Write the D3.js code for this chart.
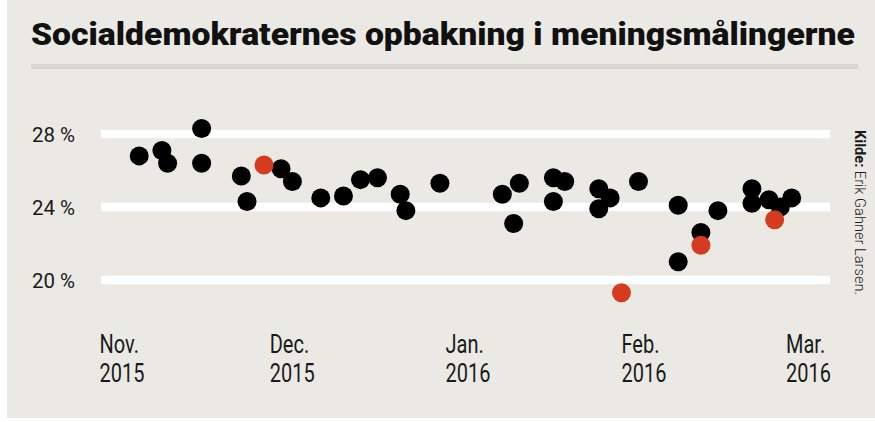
<!DOCTYPE html>
<html>
<head>
<meta charset="utf-8">
<script src="https://cdn.jsdelivr.net/npm/d3@7"></script>
<style>
  html, body { margin: 0; padding: 0; background: #fff; }
  svg { display: block; }
</style>
</head>
<body>
<div id="chart"></div>
<script>
// Målinger (sorte) og fremhævede målinger (røde)
const blackDates = ["2015-11-08","2015-11-12","2015-11-13","2015-11-19","2015-11-19","2015-11-26","2015-11-27",
  "2015-12-03","2015-12-05","2015-12-10","2015-12-14","2015-12-17","2015-12-20","2015-12-24","2015-12-25","2015-12-31",
  "2016-01-11","2016-01-14","2016-01-13","2016-01-20","2016-01-22","2016-01-20","2016-01-28","2016-01-30","2016-01-28",
  "2016-02-04","2016-02-11","2016-02-11","2016-02-15","2016-02-18","2016-02-24","2016-02-24","2016-02-27","2016-02-29","2016-03-02"];
const blackValues = [26.8, 27.1, 26.4, 28.3, 26.4, 25.7, 24.3,
  26.1, 25.4, 24.5, 24.6, 25.5, 25.6, 24.7, 23.8, 25.3,
  24.7, 25.3, 23.1, 25.6, 25.4, 24.3, 25.0, 24.5, 23.9,
  25.4, 24.1, 21.0, 22.6, 23.8, 25.0, 24.2, 24.4, 24.0, 24.5];

const redDates = ["2015-11-30","2016-02-01","2016-02-15","2016-02-28"];
const redValues = [26.3, 19.3, 21.9, 23.3];

const yTicks = [20, 24, 28];
const monthTicks = ["2015-11-01","2015-12-01","2016-01-01","2016-02-01","2016-03-01"];
const monthNames = ["Nov.", "Dec.", "Jan.", "Feb.", "Mar."];
const monthYears = ["2015", "2015", "2016", "2016", "2016"];

const W = 875, H = 422;
const parse = d3.utcParse("%Y-%m-%d");
const font = "Roboto, 'DejaVu Sans Condensed', sans-serif";
const squeeze = 0.8; // smal skrift

const svg = d3.select("#chart")
    .append("svg")
    .attr("width", W)
    .attr("height", H);

// baggrund
svg.append("rect")
    .attr("x", 7).attr("y", 0)
    .attr("width", W - 7).attr("height", 418)
    .attr("fill", "#ebe9e4");

// titel
svg.append("text")
    .attr("x", 31)
    .attr("y", 45)
    .attr("textLength", 824)
    .attr("lengthAdjust", "spacingAndGlyphs")
    .style("font-family", font)
    .style("font-weight", 900)
    .style("font-size", "32px")
    .attr("fill", "#111")
    .text("Socialdemokraternes opbakning i meningsmålingerne");

svg.append("rect")
    .attr("x", 31).attr("y", 64)
    .attr("width", 827).attr("height", 5)
    .attr("fill", "#d9d6d0");

const x = d3.scaleUtc()
    .domain([parse("2015-11-01"), parse("2016-03-01")])
    .range([99.5, 786]);

const y = d3.scaleLinear()
    .domain([20, 28])
    .range([280, 134]);

// hvide gitterlinjer
svg.selectAll(".grid")
    .data(yTicks)
    .enter()
    .append("line")
    .attr("class", "grid")
    .attr("x1", 101).attr("x2", 830)
    .attr("y1", d => y(d)).attr("y2", d => y(d))
    .attr("stroke", "#fff")
    .attr("stroke-width", 8.5);

svg.selectAll(".ylab")
    .data(yTicks)
    .enter()
    .append("text")
    .attr("class", "ylab")
    .attr("x", 32)
    .attr("y", d => y(d) + 8)
    .attr("textLength", 43)
    .attr("lengthAdjust", "spacingAndGlyphs")
    .style("font-family", font)
    .style("font-size", "21px")
    .attr("fill", "#1a1a1a")
    .text(d => d + " %");

// måneder
const xl = svg.selectAll(".xlab")
    .data(monthTicks)
    .enter()
    .append("text")
    .attr("class", "xlab")
    .attr("transform", d => `translate(${x(parse(d))},0) scale(${squeeze},1)`)
    .style("font-family", font)
    .style("font-size", "25px")
    .attr("fill", "#1a1a1a");

xl.append("tspan").attr("x", 0).attr("y", 353).text((d, i) => monthNames[i]);
xl.append("tspan").attr("x", 0).attr("y", 382).text((d, i) => monthYears[i]);

// prikker
svg.selectAll(".dot")
    .data(blackDates.map((d, i) => ({ date: parse(d), value: blackValues[i] })))
    .enter()
    .append("circle")
    .attr("class", "dot")
    .attr("cx", d => x(d.date))
    .attr("cy", d => y(d.value))
    .attr("r", 9.5)
    .attr("fill", "#000");

svg.selectAll(".reddot")
    .data(redDates.map((d, i) => ({ date: parse(d), value: redValues[i] })))
    .enter()
    .append("circle")
    .attr("class", "reddot")
    .attr("cx", d => x(d.date))
    .attr("cy", d => y(d.value))
    .attr("r", 9.5)
    .attr("fill", "#d53b1e");

// kilde
const src = svg.append("text")
    .attr("transform", "translate(855,130) rotate(90)")
    .attr("textLength", 165)
    .attr("lengthAdjust", "spacingAndGlyphs")
    .style("font-family", font)
    .style("font-size", "15px")
    .attr("fill", "#1a1a1a");
src.append("tspan").style("font-weight", "bold").text("Kilde:");
src.append("tspan").style("font-weight", 300).text(" Erik Gahner Larsen.");
</script>
</body>
</html>
